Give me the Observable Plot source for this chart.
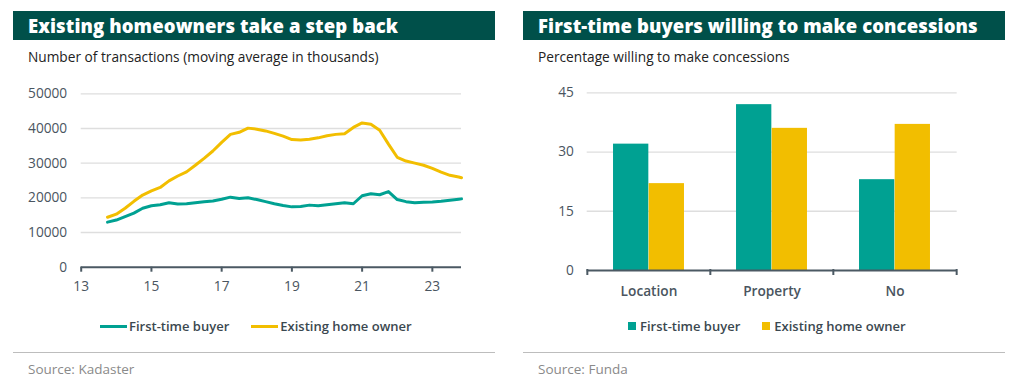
<!DOCTYPE html>
<html>
<head>
<meta charset="utf-8">
<script src="https://cdn.jsdelivr.net/npm/d3@7"></script>
<script src="https://cdn.jsdelivr.net/npm/@observablehq/plot@0.6"></script>
<style>
  html, body { margin: 0; padding: 0; background: #fff; }
  body { width: 1020px; height: 382px; position: relative; overflow: hidden; font-family: "Open Sans", "Noto Sans", sans-serif; }
  .band { position: absolute; top: 11px; height: 29px; width: 482px; background: #00504a; color: #fff;
          font-family: "Open Sans", sans-serif; font-weight: 800; font-size: 18.5px; line-height: 29px; padding-left: 15px; box-sizing: border-box; letter-spacing: 0.1px; white-space: nowrap; }
  .sub { position: absolute; top: 47px; font-size: 13.7px; color: #222; white-space: nowrap; }
  .chart { position: absolute; top: 70px; }
  .legend { position: absolute; top: 317px; font-size: 13px; color: #3b4850; font-weight: 600; white-space: nowrap; display: flex; align-items: center; }
  .legend span.item { display: inline-flex; align-items: center; }
  .sep { position: absolute; top: 352px; width: 482px; height: 1px; background: #bdbdbd; }
  .src { position: absolute; top: 360px; font-size: 13.5px; color: #8a8a8a; white-space: nowrap; }
</style>
</head>
<body>
<div id="root"></div>
<script>
// ---------- Left chart data ----------
const leftTitle = "Existing homeowners take a step back";
const leftSubtitle = "Number of transactions (moving average in thousands)";
const leftSource = "Source: Kadaster";
const seriesNames = ["First-time buyer", "Existing home owner"];
const periods = [2013.75, 2014, 2014.25, 2014.5, 2014.75, 2015, 2015.25, 2015.5, 2015.75, 2016, 2016.25, 2016.5, 2016.75,
  2017, 2017.25, 2017.5, 2017.75, 2018, 2018.25, 2018.5, 2018.75, 2019, 2019.25, 2019.5, 2019.75, 2020, 2020.25, 2020.5, 2020.75,
  2021, 2021.25, 2021.5, 2021.75, 2022, 2022.25, 2022.5, 2022.75, 2023, 2023.25, 2023.5, 2023.75, 2023.83];
const firstTimeBuyer = [13000, 13600, 14600, 15600, 17000, 17700, 18000, 18600, 18200, 18300, 18600, 18900, 19100,
  19600, 20200, 19800, 20000, 19500, 18900, 18300, 17800, 17400, 17500, 17900, 17700, 18000, 18300, 18600, 18300,
  20600, 21200, 20900, 21800, 19500, 18900, 18600, 18700, 18800, 19000, 19300, 19600, 19700];
const existingOwner = [14400, 15300, 17000, 19000, 20800, 22000, 23000, 24900, 26300, 27500, 29400, 31400, 33500,
  36000, 38300, 38900, 40100, 39800, 39300, 38600, 37800, 36800, 36700, 36900, 37300, 37900, 38300, 38500, 40300,
  41600, 41200, 39500, 35500, 31700, 30600, 30000, 29400, 28500, 27400, 26500, 26000, 25800];
const leftYTicks = [0, 10000, 20000, 30000, 40000, 50000];
const leftXTicks = [2013, 2015, 2017, 2019, 2021, 2023];
const leftXLabels = ["13", "15", "17", "19", "21", "23"];

// ---------- Right chart data ----------
const rightTitle = "First-time buyers willing to make concessions";
const rightSubtitle = "Percentage willing to make concessions";
const rightSource = "Source: Funda";
const categories = ["Location", "Property", "No"];
const firstTimeBuyerPct = [32, 42, 23];
const existingOwnerPct = [22, 36, 37];
const rightYTicks = [0, 15, 30, 45];

const colors = ["#00a192", "#f2be00"];
const axisColor = "#4b5963";
const tickColor = "#4a5560";
const gridColor = "#dedede";
const font = "'Open Sans', 'Noto Sans', sans-serif";

const root = document.getElementById("root");
function el(cls, left, text) {
  const d = document.createElement("div");
  d.className = cls; d.style.left = left + "px";
  if (text != null) d.textContent = text;
  root.appendChild(d); return d;
}

// ---------- Left panel ----------
el("band", 13, leftTitle);
el("sub", 28, leftSubtitle);

const lineData = periods.flatMap((p, i) => [
  {t: p, v: firstTimeBuyer[i], s: seriesNames[0]},
  {t: p, v: existingOwner[i], s: seriesNames[1]}
]);

const leftPlot = Plot.plot({
  width: 500, height: 240,
  marginLeft: 80.7, marginRight: 39, marginTop: 23.3, marginBottom: 43.3,
  style: {fontFamily: font, fontSize: "13.7px", color: tickColor, background: "transparent"},
  x: {domain: [2013, 2023.83]},
  y: {domain: [0, 50000]},
  color: {domain: seriesNames, range: colors},
  marks: [
    Plot.gridY({ticks: leftYTicks.filter(d => d > 0), stroke: gridColor, strokeOpacity: 1, strokeWidth: 1.3}),
    Plot.axisY({ticks: leftYTicks, tickSize: 0, tickPadding: 14, label: null, tickFormat: d => String(d)}),
    Plot.axisX({ticks: leftXTicks, tickFormat: d => leftXLabels[leftXTicks.indexOf(d)], tickSize: 5, tickPadding: 9, label: null, stroke: axisColor, strokeWidth: 2}),
    Plot.ruleY([0], {stroke: axisColor, strokeWidth: 2}),
    Plot.line(lineData.filter(d => d.s === seriesNames[1]), {x: "t", y: "v", stroke: "s", strokeWidth: 3, strokeLinejoin: "round"}),
    Plot.line(lineData.filter(d => d.s === seriesNames[0]), {x: "t", y: "v", stroke: "s", strokeWidth: 3, strokeLinejoin: "round"})
  ]
});
const lc = el("chart", 0); lc.appendChild(leftPlot);

const ll = el("legend", 100);
seriesNames.forEach((n, i) => {
  const it = document.createElement("span"); it.className = "item";
  it.style.marginRight = i === 0 ? "22px" : "0";
  const sw = document.createElement("span");
  sw.style.cssText = `display:inline-block;width:27px;height:3px;background:${colors[i]};margin-right:2px;`;
  it.appendChild(sw);
  it.appendChild(document.createTextNode(n));
  ll.appendChild(it);
});
el("sep", 13);
el("src", 28, leftSource);

// ---------- Right panel ----------
el("band", 523, rightTitle);
el("sub", 538, rightSubtitle);

const barData = categories.flatMap((c, i) => [
  {c, v: firstTimeBuyerPct[i], s: seriesNames[0]},
  {c, v: existingOwnerPct[i], s: seriesNames[1]}
]);
const rW = 500, rML = 76.7, rMR = 53.3, rMT = 22.3, rMB = 40, rH = 240;
const bw = (rW - rML - rMR) / categories.length;
const outer = bw * 0.211;
const innerH = rH - rMT - rMB;

const rightPlot = Plot.plot({
  width: rW, height: rH,
  marginLeft: rML, marginRight: rMR, marginTop: rMT, marginBottom: rMB,
  style: {fontFamily: font, fontSize: "13.7px", color: tickColor, background: "transparent"},
  x: {domain: categories, padding: 0},
  y: {domain: [0, 45]},
  color: {domain: seriesNames, range: colors},
  marks: [
    Plot.gridY({ticks: rightYTicks.filter(d => d > 0), stroke: gridColor, strokeOpacity: 1, strokeWidth: 1.3}),
    Plot.axisY({ticks: rightYTicks, tickSize: 0, tickPadding: 13.4, label: null}),
    Plot.barY(barData.filter(d => d.s === seriesNames[0]), {x: "c", y: "v", fill: "s", insetLeft: outer, insetRight: bw / 2}),
    Plot.barY(barData.filter(d => d.s === seriesNames[1]), {x: "c", y: "v", fill: "s", insetLeft: bw / 2, insetRight: outer}),
    Plot.ruleY([0], {stroke: axisColor, strokeWidth: 2}),
    Plot.ruleX(categories, {x: d => d, dx: -bw / 2, insetTop: innerH - 1, insetBottom: -5, stroke: axisColor, strokeWidth: 2}),
    Plot.ruleX(categories.slice(-1), {x: d => d, dx: bw / 2, insetTop: innerH - 1, insetBottom: -5, stroke: axisColor, strokeWidth: 2}),
    Plot.axisX({tickSize: 0, tickPadding: 15.5, label: null, fontWeight: 600})
  ]
});
const rc = el("chart", 510); rc.appendChild(rightPlot);

const rl = el("legend", 628);
seriesNames.forEach((n, i) => {
  const it = document.createElement("span"); it.className = "item";
  it.style.marginRight = i === 0 ? "22px" : "0";
  const sw = document.createElement("span");
  sw.style.cssText = `display:inline-block;width:8px;height:8px;background:${colors[i]};margin-right:4px;`;
  it.appendChild(sw);
  it.appendChild(document.createTextNode(n));
  rl.appendChild(it);
});
el("sep", 523);
el("src", 538, rightSource);
</script>
</body>
</html>
